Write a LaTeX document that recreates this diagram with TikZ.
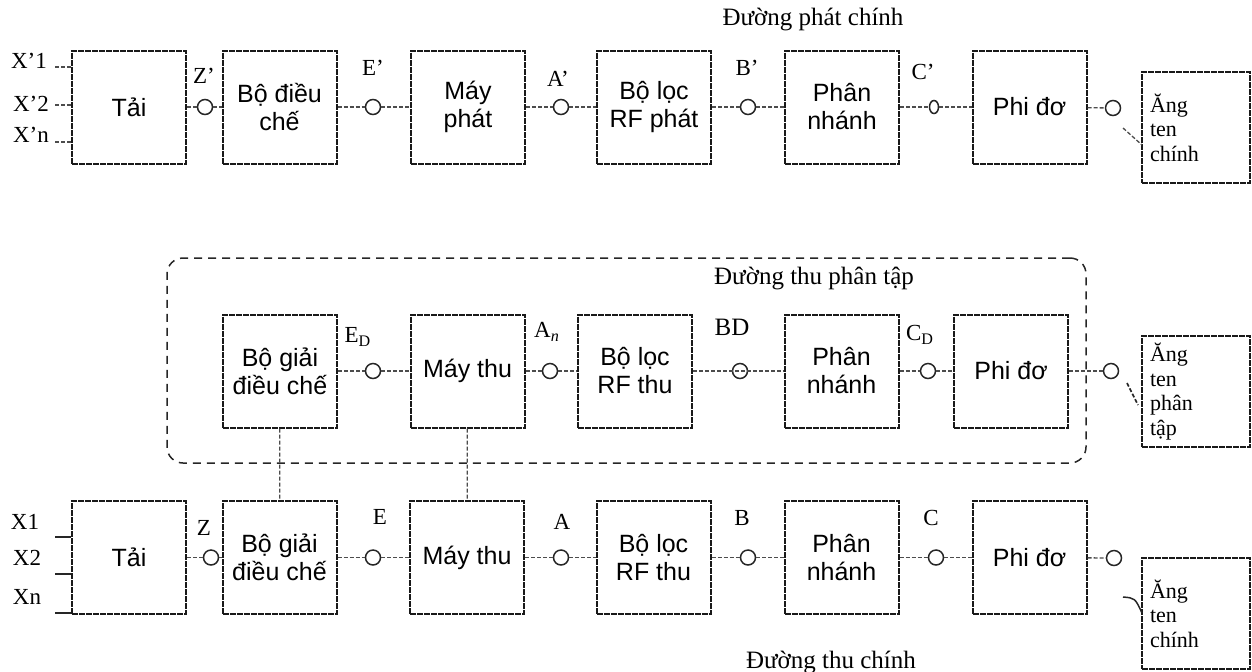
\documentclass[tikz,border=0pt]{standalone}
\usepackage{fontspec}
\setmainfont{Liberation Serif}
\setsansfont{Liberation Sans}
\usetikzlibrary{shapes.geometric}
\begin{document}
\begin{tikzpicture}[x=0.5pt,y=-0.5pt,
  blk/.style={draw=black!90, line width=1pt, dash pattern=on 3pt off 0.5pt,
    minimum width=57pt, minimum height=56.5pt, inner sep=0pt, align=center,
    font=\sffamily\fontsize{12.5}{14}\selectfont},
  antbox/.style={draw=black!90, line width=1pt, dash pattern=on 3pt off 0.5pt,
    minimum width=54pt, minimum height=55.5pt, text width=46pt, inner xsep=4pt,
    align=left, font=\fontsize{11}{12.3}\selectfont},
  pt/.style={circle, draw=black!85, line width=0.75pt, fill=white, minimum size=7.5pt, inner sep=0pt},
  conn/.style={draw=black!70, line width=0.65pt, dash pattern=on 2pt off 1pt},
  stub/.style={draw=black!85, line width=0.75pt},
  lbl/.style={font=\fontsize{11.5}{12}\selectfont, inner sep=0pt},
  ttl/.style={font=\fontsize{12.5}{14}\selectfont, inner sep=0pt},
  divbox/.style={draw=black!85, line width=0.75pt, dash pattern=on 4pt off 3pt,
    rounded corners=8pt, minimum width=459.5pt, minimum height=102.5pt, inner sep=0pt}
]
\useasboundingbox (0,0) rectangle (1252,671);

% ---------------- Top row: transmit ----------------
\node[ttl] (title1) at (813,20) {Đường phát chính};

\node[blk] (tai1) at (129,107) {Tải};
\node[blk] (mod1) at (279.5,107) {Bộ điều\\chế};
\node[blk] (tx1)  at (468,107) {Máy\\phát};
\node[blk] (rf1)  at (654,107) {Bộ lọc\\RF phát};
\node[blk] (br1)  at (842,107) {Phân\\nhánh};
\node[blk] (fd1)  at (1029.5,107) {Phi đơ};
\node[antbox] (ant1) at (1196,127.5) {Ăng\\ten\\chính};

\node[pt] (z1) at (205,107) {};
\node[pt] (e1) at (373,107) {};
\node[pt] (a1) at (561,107) {};
\node[pt] (b1) at (748,107) {};
\node[pt, ellipse, minimum width=4.5pt, minimum height=6.5pt] (c1) at (934,107) {};
\node[pt] (o1) at (1113,108) {};

\draw[conn] (tai1) -- (z1);
\draw[conn] (z1) -- (mod1);
\draw[conn] (mod1) -- (e1);
\draw[conn] (e1) -- (tx1);
\draw[conn] (tx1) -- (a1);
\draw[conn] (a1) -- (rf1);
\draw[conn] (rf1) -- (b1);
\draw[conn] (b1) -- (br1);
\draw[conn] (br1) -- (c1);
\draw[conn] (c1) -- (fd1);
\draw[conn] (fd1) -- (o1);

\node[lbl] (lz1) at (204,76) {Z’};
\node[lbl] (le1) at (373,68) {E’};
\node[lbl] (la1) at (558,79) {A’};
\node[lbl] (lb1) at (747,68) {B’};
\node[lbl] (lc1) at (923,72) {C’};

\node[lbl] (x11) at (29,61) {X’1};
\node[lbl] (x12) at (31,104) {X’2};
\node[lbl] (x1n) at (31,135) {X’n};
\coordinate (s11) at (55,67);
\coordinate (s12) at (55,105);
\coordinate (s1n) at (55,142);
\draw[conn] (s11) -- (s11 -| tai1.west);
\draw[conn] (s12) -- (s12 -| tai1.west);
\draw[conn] (s1n) -- (s1n -| tai1.west);

\coordinate (t1a) at (1123,128);
\coordinate (t1b) at (1142,145);
\draw[conn] (t1a) -- (t1b);

% ---------------- Middle: diversity receive ----------------
\node[divbox] (div) at (626.5,360.5) {};
\node[ttl] (title2) at (814,278) {Đường thu phân tập};

\node[blk] (dm2) at (280,371) {Bộ giải\\điều chế};
\node[blk] (rx2) at (467.5,371) {Máy thu};
\node[blk] (rf2) at (635,371) {Bộ lọc\\RF thu};
\node[blk] (br2) at (841.5,371) {Phân\\nhánh};
\node[blk] (fd2) at (1011,371) {Phi đơ};
\node[antbox] (ant2) at (1196,391.5) {Ăng\\ten\\phân\\tập};

\node[pt] (e2) at (373,371) {};
\node[pt] (a2) at (550,371) {};
\node[pt, fill=none] (b2) at (740,371) {};
\node[pt] (c2) at (928,371) {};
\node[pt] (o2) at (1111,371) {};

\draw[conn] (dm2) -- (e2);
\draw[conn] (e2) -- (rx2);
\draw[conn] (rx2) -- (a2);
\draw[conn] (a2) -- (rf2);
\draw[conn] (rf2) -- (br2);
\draw[conn] (br2) -- (c2);
\draw[conn] (c2) -- (fd2);
\draw[conn] (fd2) -- (o2);

\node[lbl] (le2) at (358,337) {E\textsubscript{D}};
\node[lbl] (la2) at (547,332) {A\textsubscript{\textit{n}}};
\node[lbl, font=\fontsize{12.5}{13}\selectfont] (lb2) at (732,327) {BD};
\node[lbl] (lc2) at (920,335) {C\textsubscript{D}};

\coordinate (t2a) at (1127,383);
\coordinate (t2b) at (1138,405);
\draw[conn, draw=black!85, line width=0.8pt] (t2a) -- (t2b);

% ---------------- Bottom row: main receive ----------------
\node[blk] (tai3) at (129,557.5) {Tải};
\node[blk] (dm3)  at (279.5,557.5) {Bộ giải\\điều chế};
\node[blk] (rx3)  at (467,557.5) {Máy thu};
\node[blk] (rf3)  at (653.5,557.5) {Bộ lọc\\RF thu};
\node[blk] (br3)  at (841.5,557.5) {Phân\\nhánh};
\node[blk] (fd3)  at (1029.5,557.5) {Phi đơ};
\node[antbox] (ant3) at (1196,613.5) {Ăng\\ten\\chính};

\node[pt] (z3) at (211,557.5) {};
\node[pt] (e3) at (373,557.5) {};
\node[pt] (a3) at (561,557.5) {};
\node[pt] (b3) at (748,557.5) {};
\node[pt] (c3) at (936,557.5) {};
\node[pt] (o3) at (1114,558) {};

\draw[conn] (tai3) -- (z3);
\draw[conn] (z3) -- (dm3);
\draw[conn] (dm3) -- (e3);
\draw[conn] (e3) -- (rx3);
\draw[conn] (rx3) -- (a3);
\draw[conn] (a3) -- (rf3);
\draw[conn] (rf3) -- (b3);
\draw[conn] (b3) -- (br3);
\draw[conn] (br3) -- (c3);
\draw[conn] (c3) -- (fd3);
\draw[conn] (fd3) -- (o3);

\node[lbl] (lz3) at (204,528) {Z};
\node[lbl] (le3) at (380,517) {E};
\node[lbl] (la3) at (562,522) {A};
\node[lbl] (lb3) at (742,518) {B};
\node[lbl] (lc3) at (931,518) {C};

\node[lbl] (x31) at (25,522) {X1};
\node[lbl] (x32) at (27,558) {X2};
\node[lbl] (x3n) at (27,597) {Xn};
\coordinate (s31) at (55,537);
\coordinate (s32) at (55,574);
\coordinate (s3n) at (55,613);
\draw[stub] (s31) -- (s31 -| tai3.west);
\draw[stub] (s32) -- (s32 -| tai3.west);
\draw[stub] (s3n) -- (s3n -| tai3.west);

\coordinate (t3a) at (1123,597);
\coordinate (t3b) at (1142,613);
\draw[stub] (t3a) .. controls (1135,598) .. (t3b);

\node[ttl] (title3) at (831,662) {Đường thu chính};

% ---------------- Vertical links ----------------
\draw[conn] (dm2) -- (dm3);
\draw[conn] (rx2) -- (rx3);
\end{tikzpicture}
\end{document}
